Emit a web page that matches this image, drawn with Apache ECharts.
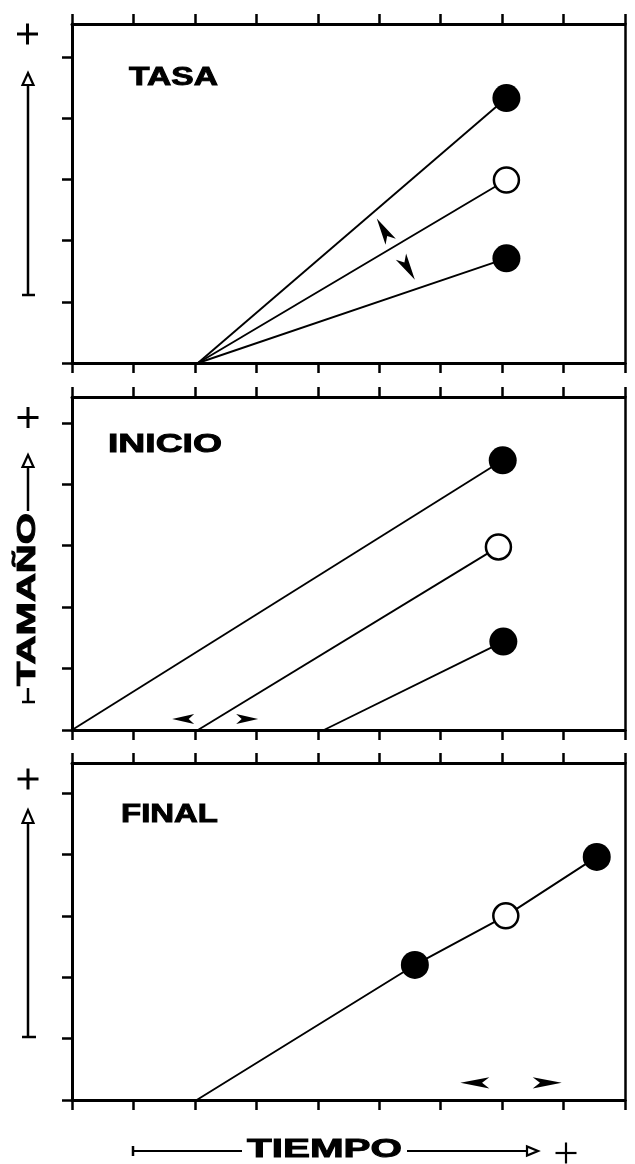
<!DOCTYPE html>
<html>
<head>
<meta charset="utf-8">
<script src="https://cdn.jsdelivr.net/npm/echarts@6/dist/echarts.min.js"></script>
<style>
html,body{margin:0;padding:0;background:#fff;}
#c{width:635px;height:1164px;}
</style>
</head>
<body>
<div id="c"></div>
<script>
// ---- data ----
const xTicks = [0, 1, 2, 3, 4, 5, 6, 7, 8, 9];
const yTicks = [0, 1, 2, 3, 4, 5];
const panelTitles = ['TASA', 'INICIO', 'FINAL'];
const xTitle = 'TIEMPO';
const yTitle = 'TAMAÑO';

// Panel 1: TASA (rate)
const tasaAlta  = [[2.05, 0], [7.07, 4.33]];
const tasaMedia = [[2.05, 0], [7.07, 2.99]];
const tasaBaja  = [[2.05, 0], [7.07, 1.71]];
const tasaFilled = [[7.07, 4.33], [7.07, 1.71]];
const tasaOpen   = [[7.07, 2.99]];
const tasaArrowTips = [[4.96, 2.36], [5.58, 1.36]];
const tasaArrowAngles = [31, 211];

// Panel 2: INICIO (onset)
const inicioTemprano = [[0, 0], [7.01, 4.39]];
const inicioMedio    = [[2.05, 0], [6.94, 2.98]];
const inicioTardio   = [[4.1, 0], [7.02, 1.44]];
const inicioFilled = [[7.01, 4.39], [7.02, 1.44]];
const inicioOpen   = [[6.94, 2.98]];
const inicioArrowTips = [[1.63, 0.18], [3.03, 0.18]];
const inicioArrowAngles = [90, -90];

// Panel 3: FINAL (offset)
const finalLinea  = [[2.03, 0], [5.58, 2.2], [7.06, 3.0], [8.54, 3.96]];
const finalFilled = [[5.58, 2.2], [8.54, 3.96]];
const finalOpen   = [[7.06, 3.0]];
const finalArrowTips = [[6.32, 0.28], [7.97, 0.28]];
const finalArrowAngles = [90, -90];

// ---- layout ----
const grids = [
  {left: 72, right: 10, top: 24, height: 339, ymax: 5.54},
  {left: 72, right: 10, top: 397, height: 333, ymax: 5.42},
  {left: 72, right: 10, top: 763, height: 337, ymax: 5.49}
];

const chart = echarts.init(document.getElementById('c'), null, {renderer: 'canvas'});

const AX = {color: '#000', width: 3};
const xAxes = [], yAxes = [];
grids.forEach((g, i) => {
  ['bottom', 'top'].forEach(pos => {
    xAxes.push({
      type: 'value', gridIndex: i, position: pos, min: xTicks[0], max: xTicks[xTicks.length - 1], interval: 1,
      axisLine: {show: true, onZero: false, lineStyle: AX},
      axisTick: {show: true, inside: false, length: 10, lineStyle: {color: '#000', width: 2.5}},
      axisLabel: {show: false}, splitLine: {show: false}
    });
  });
  yAxes.push({
    type: 'value', gridIndex: i, position: 'left', min: 0, max: g.ymax, interval: 1,
    axisLine: {show: true, onZero: false, lineStyle: AX},
    axisTick: {show: true, inside: false, length: 10, lineStyle: {color: '#000', width: 2.5}, customValues: yTicks},
    axisLabel: {show: false}, splitLine: {show: false}
  });
  yAxes.push({
    type: 'value', gridIndex: i, position: 'right', min: 0, max: g.ymax,
    axisLine: {show: true, onZero: false, lineStyle: {color: '#000', width: 2.5}},
    axisTick: {show: false}, axisLabel: {show: false}, splitLine: {show: false}
  });
});

function lineS(i, data) {
  return {type: 'line', xAxisIndex: i * 2, yAxisIndex: i * 2, data: data, showSymbol: false,
    lineStyle: {color: '#000', width: 1.9}, silent: true, z: 2};
}
function filledS(i, data) {
  return {type: 'scatter', xAxisIndex: i * 2, yAxisIndex: i * 2, data: data, symbol: 'circle',
    symbolSize: 28, itemStyle: {color: '#000', opacity: 1}, silent: true, z: 4};
}
function openS(i, data) {
  return {type: 'scatter', xAxisIndex: i * 2, yAxisIndex: i * 2, data: data, symbol: 'circle',
    symbolSize: 25, itemStyle: {color: '#fff', borderColor: '#000', borderWidth: 2.5, opacity: 1}, silent: true, z: 4};
}
function arrowS(i, data, angles, size) {
  return {type: 'scatter', xAxisIndex: i * 2, yAxisIndex: i * 2,
    data: data.map((d, k) => ({value: d, symbolRotate: angles[k]})),
    symbol: 'arrow', symbolSize: size, itemStyle: {color: '#000', opacity: 1}, silent: true, z: 4};
}

const series = [
  lineS(0, tasaAlta), lineS(0, tasaMedia), lineS(0, tasaBaja),
  filledS(0, tasaFilled), openS(0, tasaOpen), arrowS(0, tasaArrowTips, tasaArrowAngles, [9, 27]),
  lineS(1, inicioTemprano), lineS(1, inicioMedio), lineS(1, inicioTardio),
  filledS(1, inicioFilled), openS(1, inicioOpen), arrowS(1, inicioArrowTips, inicioArrowAngles, [7.5, 22]),
  lineS(2, finalLinea), filledS(2, finalFilled), openS(2, finalOpen), arrowS(2, finalArrowTips, finalArrowAngles, [8.5, 29])
];

// ---- text helpers (wide heavy lettering) ----
const FONT_FAMILY = '"Liberation Sans", Arial, sans-serif';
const mctx = document.createElement('canvas').getContext('2d');
function wideText(text, cx, cy, size, targetW, rot) {
  const font = 'bold ' + size + 'px ' + FONT_FAMILY;
  mctx.font = font;
  const w = mctx.measureText(text).width;
  return {type: 'text', x: cx, y: cy, rotation: rot || 0, scaleX: targetW / w, scaleY: 1, silent: true, z: 10,
    style: {text: text, font: font, fill: '#000', stroke: '#000', lineWidth: 0.9,
      align: 'center', verticalAlign: 'middle'}};
}
function plus(cx, cy, s, w) {
  return [
    {type: 'line', shape: {x1: cx - s, y1: cy, x2: cx + s, y2: cy}, style: {stroke: '#000', lineWidth: w}, silent: true},
    {type: 'line', shape: {x1: cx, y1: cy - s, x2: cx, y2: cy + s}, style: {stroke: '#000', lineWidth: w}, silent: true}
  ];
}
function seg(x1, y1, x2, y2, w) {
  return {type: 'line', shape: {x1, y1, x2, y2}, style: {stroke: '#000', lineWidth: w}, silent: true};
}
function openTri(pts) {
  return {type: 'polygon', shape: {points: pts}, style: {fill: '#fff', stroke: '#000', lineWidth: 2.2}, silent: true, z: 11};
}

const graphics = [];
// panel titles
graphics.push(wideText(panelTitles[0], 173.5, 78, 25, 89));
graphics.push(wideText(panelTitles[1], 165, 445, 25, 114));
graphics.push(wideText(panelTitles[2], 169.5, 815, 25, 97));

// panel 1 side arrow
graphics.push(...plus(27.5, 34, 10.5, 3));
graphics.push(seg(28, 84, 28, 295, 2.5));
graphics.push(seg(22, 295, 35, 295, 2.5));
graphics.push(openTri([[28, 73], [22.5, 85], [33.5, 85]]));

// panel 2 side arrow with label
graphics.push(...plus(28, 417.5, 10.5, 3));
graphics.push(seg(28, 466, 28, 511, 2.5));
graphics.push(openTri([[28, 455], [22.5, 467], [33.5, 467]]));
graphics.push(wideText(yTitle, 28, 599.5, 25, 173, Math.PI / 2));
graphics.push(seg(28, 688, 28, 702, 2.5));
graphics.push(seg(22, 702, 35, 702, 2.5));

// panel 3 side arrow
graphics.push(...plus(28, 779, 10.5, 3));
graphics.push(seg(28, 822, 28, 1037, 2.5));
graphics.push(seg(22, 1037, 36, 1037, 2.5));
graphics.push(openTri([[28, 810], [22.5, 823], [33.5, 823]]));

// bottom time arrow
graphics.push(seg(133, 1146, 133, 1156, 2.5));
graphics.push(seg(133, 1151, 242, 1151, 2));
graphics.push(wideText(xTitle, 324.5, 1150, 25, 155));
graphics.push(seg(407, 1151, 527, 1151, 2));
graphics.push(openTri([[538, 1151], [527, 1146.5], [527, 1155.5]]));
graphics.push(...plus(566, 1153, 10.5, 2.2));

chart.setOption({
  backgroundColor: '#fff',
  animation: false,
  grid: grids.map(g => ({left: g.left, right: g.right, top: g.top, height: g.height, containLabel: false})),
  xAxis: xAxes,
  yAxis: yAxes,
  series: series,
  graphic: graphics
});
</script>
</body>
</html>
